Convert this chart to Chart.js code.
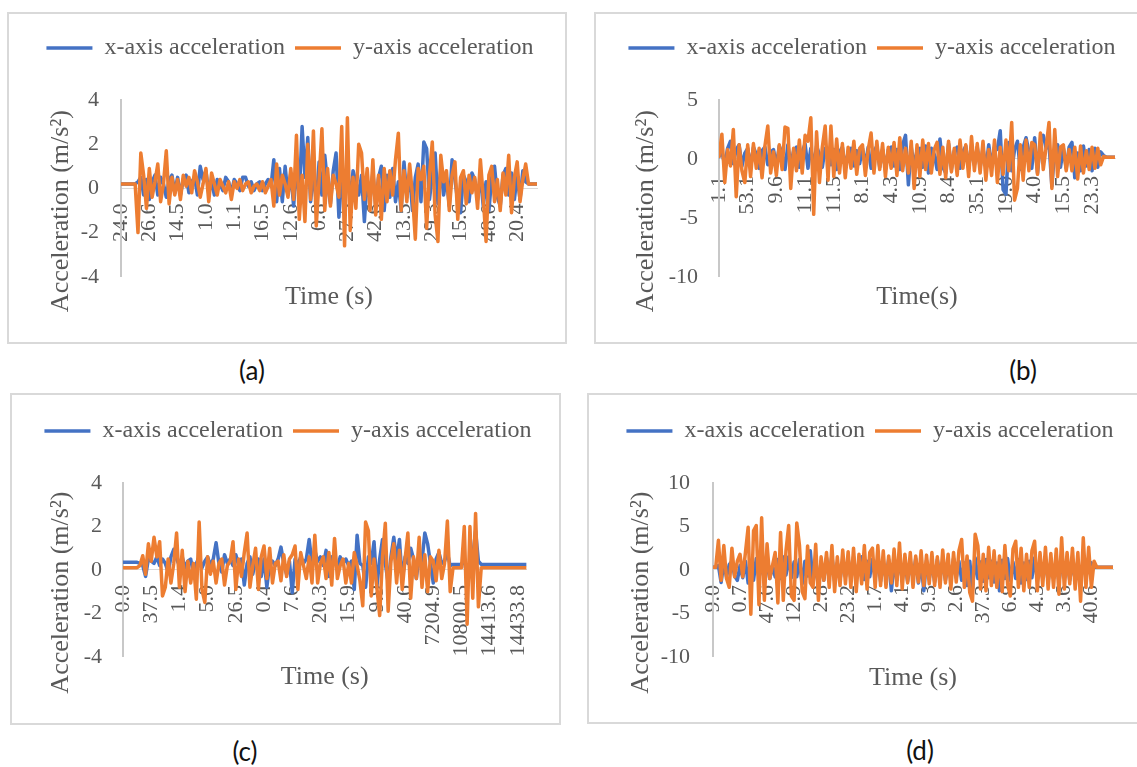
<!DOCTYPE html>
<html>
<head>
<meta charset="utf-8">
<script src="https://cdn.jsdelivr.net/npm/chart.js@4.4.1/dist/chart.umd.min.js"></script>
<style>
  body { margin: 0; background: #fff; }
  #page { position: relative; width: 1137px; height: 767px; overflow: hidden; background: #fff; }
  .frame { position: absolute; border: 2px solid #d9d9d9; box-sizing: border-box; }
  canvas { position: absolute; }
  .cap { position: absolute; width: 80px; margin-left: -40px; text-align: center; font: 26px Lato, 'Noto Sans', sans-serif; line-height: 26px; color: #111; }
</style>
</head>
<body>
<div id="page">
  <div class="frame" style="left:7px;top:12px;width:560px;height:332px"></div>
  <canvas id="chartA" width="558" height="330" style="left:8px;top:13px"></canvas>
  <div class="cap" style="left:252px;top:357px">(a)</div>

  <div class="frame" style="left:594px;top:12px;width:552px;height:332px"></div>
  <canvas id="chartB" width="550" height="330" style="left:595px;top:13px"></canvas>
  <div class="cap" style="left:1023px;top:357px">(b)</div>

  <div class="frame" style="left:10px;top:393px;width:551px;height:332px"></div>
  <canvas id="chartC" width="549" height="330" style="left:11px;top:394px"></canvas>
  <div class="cap" style="left:245px;top:738px">(c)</div>

  <div class="frame" style="left:587px;top:393px;width:561px;height:331px"></div>
  <canvas id="chartD" width="559" height="329" style="left:588px;top:394px"></canvas>
  <div class="cap" style="left:920px;top:737px">(d)</div>
</div>
<script>
// time labels that Excel shows, one every 10 samples
const ticksA = ['24.0', '26.6', '14.5', '1.0', '1.1', '16.5', '12.6', '0.8', '27.5', '42.6', '13.5', '29.3', '15.6', '48.0', '20.4'];
const ticksB = ['1.1', '53.1', '9.6', '11.1', '11.5', '8.1', '4.3', '10.9', '8.4', '35.1', '19.0', '4.0', '15.5', '23.3'];
const ticksC = ['0.0', '37.5', '1.4', '5.0', '26.5', '0.4', '7.6', '20.3', '15.9', '9.9', '40.6', '7204.9', '10800.5', '14413.6', '14433.8'];
const ticksD = ['9.0', '0.7', '47.6', '12.9', '2.8', '23.2', '1.7', '4.1', '9.3', '2.6', '37.3', '6.8', '4.3', '3.6', '40.6'];

// (a)
const accXA = [
  0.2, 0.2, 0.2, 0.2, 0.2, 0.2, 0.3, 0.5, -0.3, 0.4,
  -0.5, 0.3, 0.6, -0.3, 0.5, 0.2, -0.4, 0.4, 0.6, -0.2,
  0.5, -0.3, 0.4, 0.6, -0.2, 0.3, 0.5, -0.3, 1.0, 0.4,
  0.8, -0.2, 0.3, -0.3, 0.4, 0.2, -0.1, 0.5, 0.3, -0.2,
  0.4, 0.2, -0.1, 0.5, 0.5, 0.1, 0.3, -0.1, 0.2, 0.3,
  -0.1, 0.2, 0.4, 0.1, 1.3, -0.6, 0.9, -0.6, 1.0, -0.3,
  0.7, -0.8, 1.0, -0.4, 2.8, 0.5, 2.3, -0.6, 0.8, -0.7,
  1.2, -0.3, 1.5, 0.2, -0.7, 0.8, 1.6, -1.3, 0.5, -0.4,
  0.9, -0.6, 0.8, 0.3, -0.3, 0.6, -1.5, 0.4, -0.5, 0.7,
  -0.8, 0.5, 1.0, -1.0, 0.6, -0.4, 0.9, -0.6, 0.3, -1.0,
  1.2, -0.4, 0.7, -1.0, 0.5, 1.1, -0.6, 2.1, 1.8, -0.5,
  0.6, 1.6, -0.7, 0.9, -0.3, 0.5, -0.8, 1.3, 0.4, -0.6,
  -1.1, 0.6, 0.3, -0.6, 0.7, 0.4, -0.5, 0.6, -0.8, 0.3,
  -1.0, 0.5, 1.0, -0.4, -0.8, 0.6, 0.9, -0.3, 0.7, -0.5,
  0.6, -0.5, 0.8, 0.3, 0.2, 0.2, 0.2, 0.2
];
const accYA = [
  0.2, 0.2, 0.2, 0.2, 0.2, 0.2, -2.0, 1.6, 0.6, -0.9,
  0.9, -0.4, 0.3, 1.1, -0.6, 0.2, 1.7, -0.7, 0.5, -0.3,
  0.4, -0.5, 0.6, 0.1, 0.5, -0.2, 0.8, 0.3, -0.4, 0.2,
  0.9, -0.6, 0.7, 0.2, -0.3, 0.4, 0.1, -0.2, 0.3, -0.5,
  0.3, 0.0, 0.4, -0.1, 0.2, 0.3, -0.2, 0.1, 0.2, -0.1,
  0.3, -0.2, 0.1, 0.4, -0.8, 1.1, -0.3, 0.6, 0.2, -0.4,
  0.9, -0.5, 2.4, -1.4, 0.6, -1.5, 2.0, -0.5, 2.6, -1.7,
  0.4, 2.7, -1.0, 0.9, -0.8, 0.6, 0.2, -0.4, 2.8, -2.6,
  3.2, -1.9, 0.5, -0.9, 2.0, 1.6, -0.5, 0.9, -1.0, 1.3,
  -1.2, 0.6, -1.4, 0.9, -0.6, 0.8, -0.3, 1.3, 2.5, -1.0,
  0.8, -0.6, 1.1, -0.3, -2.3, 0.9, 0.4, 1.0, -1.8, 0.6,
  2.1, -1.2, -2.4, 1.5, 0.3, 0.8, -1.0, 0.6, 1.2, -1.4,
  0.5, 0.8, -0.7, 0.6, -0.2, 0.5, -0.9, 1.3, -0.4, -2.4,
  0.6, 1.0, -0.6, 0.4, -1.0, 0.7, -0.3, 1.5, -1.1, 0.5,
  1.2, -0.6, 0.4, 1.1, 0.2, 0.2, 0.2, 0.2
];

// (b)
const accXB = [
  0.2, 0.6, -0.5, 0.9, 1.5, -0.4, 0.8, 1.2, -0.6, 0.5,
  0.9, -0.7, 1.0, 0.4, -0.8, 0.7, 1.0, -0.5, 0.6, 0.8,
  -0.6, 1.1, 0.5, -0.9, 1.2, -0.5, 0.7, 1.0, -0.7, 0.6,
  1.3, -0.8, 0.9, -0.6, 1.1, 0.4, -0.7, 0.9, 0.3, -0.5,
  0.8, -0.9, 0.6, 1.0, -0.7, 0.5, 0.9, -0.6, 0.7, -0.4,
  0.9, -0.5, 1.0, -0.8, 0.6, 1.1, -0.7, 0.8, -0.9, 0.8,
  1.0, -0.6, 0.8, -0.9, 1.2, 2.0, -2.2, 1.0, -0.6, 0.7,
  0.9, -0.7, 1.1, -1.2, 0.9, 0.4, -0.9, 1.7, -0.7, -1.2,
  1.3, -0.9, 0.7, 1.0, -0.8, 0.6, 1.1, -0.7, 0.9, -0.5,
  1.0, -0.7, 0.9, -0.8, 1.2, -0.6, 1.0, 0.8, 2.4, -2.6,
  -3.0, 1.4, -1.0, 0.8, 1.5, -0.9, 1.0, 1.8, 0.6, -0.8,
  1.8, -1.2, 1.4, 2.0, 0.9, 1.3, -2.3, 0.8, 1.2, -0.7,
  0.9, -0.8, 1.0, 1.4, -1.6, 0.5, -1.0, 1.1, -0.6, 0.8,
  -1.0, 0.9, -0.7, 0.6, 0.3, 0.15, 0.15, 0.15, 0.15
];
const accYB = [
  0.2, 2.1, -2.0, 0.8, -0.6, 2.5, -3.2, 1.2, -1.0, -2.0,
  1.2, -1.5, 1.3, -0.8, 0.9, -1.6, 1.1, 2.8, -1.2, 0.6,
  -1.4, 1.2, -0.9, 2.7, 2.6, -2.5, 0.9, -1.0, 1.6, -1.2,
  2.0, 1.5, 3.5, -4.7, 2.3, -2.0, 1.0, 2.8, -1.8, 2.8,
  -1.5, 1.7, -1.2, 1.3, -1.6, 1.0, -0.8, 1.5, -1.3, 0.9,
  1.2, -1.4, 0.8, 2.2, -1.2, 1.5, -0.9, 1.3, -1.5, 1.0,
  -0.8, 1.4, -1.4, 1.8, -1.0, 0.9, -1.2, 1.5, -2.5, 1.2,
  -1.5, 1.6, -0.9, 1.3, -1.2, 0.8, 1.4, -1.3, 1.0, -1.6,
  1.5, -1.1, 0.9, -1.4, 1.6, -0.8, 1.2, -1.5, 1.9, -1.0,
  1.3, -1.2, 1.5, -1.8, 0.8, -1.4, 1.6, -2.0, 1.0, -1.3,
  1.6, -1.0, 3.1, -3.5, -2.5, 1.2, -1.8, 1.6, -1.0, 1.4,
  1.2, -1.3, 2.2, -0.9, 1.0, 3.1, -2.5, 2.5, -1.5, 1.0,
  1.2, -1.0, 0.8, -1.0, 1.0, -1.7, 1.1, -1.2, 0.7, -0.9,
  1.0, -0.8, 0.9, -0.5, 0.2, 0.15, 0.15, 0.15, 0.15
];

// (c)
const accXC = [
  0.35, 0.35, 0.35, 0.35, 0.35, 0.35, 0.3, 0.2, -0.3, 0.5,
  0.4, 0.3, 0.6, 0.2, 0.5, 0.3, -0.1, 0.6, 0.95, 0.5,
  0.2, 0.6, 0.1, 0.4, 0.5, -0.2, 0.3, 0.6, 0.1, 0.4,
  0.6, 0.2, 0.5, 1.25, 0.3, -0.1, 0.7, 0.3, 0.5, 0.2,
  0.7, 0.2, 0.5, -0.7, 0.3, 0.6, -0.2, 0.4, 0.5, -0.3,
  0.5, -0.8, 0.3, 0.4, 0.2, 0.5, 1.05, 0.3, -0.2, 0.4,
  -1.05, 0.5, 0.2, 0.6, 0.3, 0.5, 1.4, 0.3, 0.9, 0.4,
  0.6, 0.2, 0.9, -0.3, 0.6, 0.4, 0.1, 0.6, 0.3, 0.5,
  0.2, 0.4, -0.9, 1.6, 0.3, 0.2, -0.8, 0.6, 0.3, 1.3,
  -0.8, 0.5, 1.4, 0.3, -0.6, 0.6, 1.5, 0.4, 1.4, -0.5,
  0.6, 0.3, 1.0, 0.5, -0.4, 0.7, 0.4, 1.7, 1.2, 0.3,
  -0.6, 0.5, 0.8, 0.3, 0.4, 0.8, 0.2, 0.25, 0.25, 0.25,
  0.25, 0.5, -0.4, 0.3, 0.6, 1.8, 0.4, 0.25, 0.25, 0.25,
  0.25, 0.25, 0.25, 0.25, 0.25, 0.25, 0.25, 0.25, 0.25, 0.25,
  0.25, 0.25, 0.25, 0.25
];
const accYC = [
  0.1, 0.1, 0.1, 0.1, 0.1, 0.1, 0.2, 0.65, -0.2, 1.2,
  0.4, 1.5, 0.6, 1.3, -1.2, -0.8, 0.5, -0.6, 0.3, 1.7,
  -0.8, 0.9, -1.0, 0.4, -0.6, 0.3, -1.35, 2.2, -0.9, -1.5,
  0.6, -0.2, 0.4, -0.6, 0.3, 0.5, -0.7, 0.2, 0.4, 1.3,
  -0.9, 0.5, -0.3, 0.8, 1.7, -0.8, 0.2, 1.0, -0.9, 0.6,
  1.1, -0.4, 1.0, -0.6, 0.3, 0.4, -0.5, 0.7, -0.3, 0.5,
  0.7, 1.1, -0.9, 0.8, 0.2, -0.4, 0.6, -0.6, 1.6, -0.6,
  0.3, 0.6, -0.4, 0.8, -0.7, 1.45, -0.4, 0.2, 0.5, -0.6,
  0.3, -0.6, 0.8, 0.2, -0.5, -1.65, 2.2, 1.8, -1.2, 0.5,
  -0.8, -2.1, 0.6, 2.15, -1.9, 0.4, 1.2, -0.6, 0.9, -0.9,
  0.5, 1.7, -1.3, 0.6, -0.4, 1.5, -0.8, 0.7, -1.0, 0.6,
  0.4, -0.5, 0.9, -0.4, 0.3, 2.25, -1.0, 0.1, 0.1, 0.1,
  0.1, 2.0, -2.5, 2.0, -1.3, 2.6, -1.7, 0.1, 0.1, 0.1,
  0.1, 0.1, 0.1, 0.1, 0.1, 0.1, 0.1, 0.1, 0.1, 0.1,
  0.1, 0.1, 0.1, 0.1
];

// (d)
const accXD = [
  0.3, 0.3, 0.5, -1.45, 0.8, -0.8, 0.6, 1.0, -0.7, -1.2,
  0.5, -0.9, 1.0, -1.5, 0.8, -1.2, 1.3, -0.9, 0.6, -1.0,
  0.8, -1.0, 0.5, -0.8, 1.2, -1.0, 1.5, -0.6, 1.5, -0.9,
  0.9, -0.8, 1.2, -1.6, 1.0, -0.7, 2.2, -1.5, 0.9, -1.8,
  1.0, -1.2, 1.4, -0.9, 1.6, -1.3, 0.8, -1.1, 1.2, -0.8,
  1.3, -1.0, 1.5, -1.2, 0.9, 1.5, -1.1, 1.0, -0.8, 1.2,
  -1.0, 1.4, -1.3, 0.8, -1.0, 1.2, -2.4, 0.9, -1.2, 1.4,
  -1.1, 0.9, -1.3, 1.0, -1.0, 1.3, -1.5, 0.8, -2.4, 1.1,
  -1.0, 0.8, -1.4, 1.2, -0.9, 1.0, -1.2, 0.7, -1.0, 1.3,
  -0.9, 1.0, -1.2, 0.8, -1.8, 1.0, -2.2, 1.4, -1.0, 0.9,
  -1.3, 1.2, -0.9, 1.0, -1.4, 0.8, -2.4, 1.1, -1.0, 1.3,
  -1.2, 0.9, -1.0, 1.2, -1.5, 0.8, -1.1, 1.0, -0.9, 1.4,
  -1.2, 0.8, -1.0, 1.1, -1.3, 0.9, -1.0, 1.2, -1.4, 1.0,
  -0.9, 1.1, -1.2, 0.8, -1.0, 1.0, -1.1, 0.9, -0.8, 1.0,
  0.8, 0.3, 0.3, 0.3, 0.3, 0.3, 0.3, 0.3, 0.3
];
const accYD = [
  0.3, 0.3, 3.4, -1.2, 2.8, -1.0, -2.0, 2.5, -0.8, 1.0,
  1.8, -0.8, 2.0, 4.9, -5.1, 4.5, 5.1, -4.0, 6.0, -3.5,
  3.0, -1.0, 0.5, 2.0, -3.8, 4.3, -3.5, 2.2, 5.1, -3.0,
  -3.5, 5.4, 2.8, -2.5, -3.3, 2.75, -1.5, -2.0, 2.95, -3.5,
  1.5, -1.2, 2.0, -2.0, 2.8, -2.5, 1.5, -1.8, 2.3, -1.6,
  2.1, -2.0, 2.5, -2.5, 1.8, -1.6, 2.8, -2.2, 2.0, 2.5,
  -2.0, 2.8, -1.8, 2.2, -2.0, 1.6, -1.5, 2.4, -1.8, 3.1,
  -2.2, 1.8, -1.5, 2.0, -2.0, 1.6, -1.4, 2.2, -1.8, 1.7,
  -1.6, 2.0, -1.8, 1.5, -2.0, 2.3, -1.5, 1.8, -2.2, 2.0,
  -1.4, 2.2, 3.5, -2.0, 1.6, -2.6, -3.6, 4.1, 2.8, -2.2,
  1.8, -2.4, 2.6, -1.8, 2.2, -2.0, 1.6, -2.5, 2.8, -1.7,
  -3.0, 2.4, 3.3, -2.0, 2.5, -2.4, 1.8, -2.0, 2.2, 3.3,
  -2.4, 2.0, -1.8, 2.6, -2.2, 1.9, -2.0, 2.4, -2.8, 3.7,
  -2.2, 2.0, -1.6, 2.5, -2.2, 2.0, -3.6, 3.7, -2.0, 2.6,
  -2.0, 1.0, 0.3, 0.3, 0.3, 0.3, 0.3, 0.3, 0.3
];

Chart.defaults.font.family = "'Liberation Serif', 'Times New Roman', serif";
Chart.defaults.color = '#595959';

const BLUE = '#4472c4';
const ORANGE = '#ed7d31';
const GREY = '#595959';
const EVERY = 10;

function drawAccel(id, tickLabels, accX, accY, yMin, yMax, yStep, lay) {
  const idx = accX.map((v, i) => i);
  new Chart(document.getElementById(id), {
    type: 'line',
    data: {
      labels: idx,
      datasets: [
        { label: 'x-axis acceleration', data: accX, borderColor: BLUE, backgroundColor: BLUE,
          borderWidth: 3.5, pointRadius: 0, borderJoinStyle: 'round', borderCapStyle: 'round', order: 1 },
        { label: 'y-axis acceleration', data: accY, borderColor: ORANGE, backgroundColor: ORANGE,
          borderWidth: 3.5, pointRadius: 0, borderJoinStyle: 'round', borderCapStyle: 'round', order: 0 }
      ]
    },
    options: {
      responsive: false,
      animation: false,
      devicePixelRatio: 1,
      layout: { padding: { left: lay.pl, right: 0, top: lay.pt, bottom: 0 } },
      plugins: {
        legend: {
          position: 'top',
          labels: {
            usePointStyle: true, pointStyle: 'line', pointStyleWidth: 46, padding: 10,
            font: { size: 24 }, color: GREY,
            sort: (a, b) => a.datasetIndex - b.datasetIndex
          }
        },
        // empty subtitle used only as a gap under the legend
        subtitle: { display: true, text: '', weight: 500, padding: { top: lay.gap - 2, bottom: 0 }, font: { size: 2, lineHeight: 1 } },
        title: {
          display: true, position: 'bottom', fullSize: false, text: lay.xTitle, color: GREY,
          font: { size: 26, weight: 'normal' }, padding: { top: lay.tTop, bottom: lay.tBottom }
        },
        tooltip: { enabled: false }
      },
      scales: {
        x: {
          type: 'linear',
          position: { y: 0 },
          min: 0,
          max: accX.length - 1,
          grid: { display: false, drawTicks: false },
          border: { display: true, color: '#d9d9d9', width: 1 },
          ticks: {
            stepSize: EVERY, maxTicksLimit: 100, includeBounds: false, autoSkip: false,
            minRotation: 90, maxRotation: 90, padding: lay.xPad, font: { size: 22 }, color: GREY,
            callback: (v) => (v % EVERY === 0 ? tickLabels[v / EVERY] : '')
          },
          afterFit: (s) => { s.height = 0; }
        },
        y: {
          min: yMin,
          max: yMax,
          grid: { display: false, drawTicks: false },
          border: { display: true, color: '#c8c8c8', width: 2 },
          ticks: { stepSize: yStep, maxTicksLimit: 100, padding: lay.tickPad, font: { size: 22 }, color: GREY,
            callback: (v) => String(v) },
          // trailing spaces push the title a little below the plot centre, like Excel does
          title: { display: true, text: 'Acceleration (m/s\u00B2)       ', font: { size: 26 }, color: GREY,
            padding: { top: lay.yTitlePad, bottom: 0 } },
          afterFit: (s) => { s.width = lay.yw; }
        },
        // empty right-hand box: keeps the plot off the right edge without narrowing the legend row
        gap: {
          type: 'linear', axis: 'y', position: 'right', display: true,
          grid: { display: false, drawTicks: false }, border: { display: false }, ticks: { display: false },
          afterFit: (s) => { s.width = lay.pr; }
        }
      }
    }
  });
}

drawAccel('chartA', ticksA, accXA, accYA, -4, 4, 2,
  { pl: 6, pr: 29, pt: 13, gap: 30, yw: 107, yTitlePad: 32, tickPad: 22, xPad: 15, tTop: 5, tBottom: 30, xTitle: 'Time (s)' });
drawAccel('chartB', ticksB, accXB, accYB, -10, 5, 5,
  { pl: 4, pr: 30, pt: 13, gap: 30, yw: 120, yTitlePad: 32, tickPad: 21, xPad: 17, tTop: 5, tBottom: 30, xTitle: 'Time(s)' });
drawAccel('chartC', ticksC, accXC, accYC, -4, 4, 2,
  { pl: 5, pr: 31, pt: 15, gap: 30, yw: 107, yTitlePad: 30, tickPad: 21, xPad: 15, tTop: 5, tBottom: 31, xTitle: 'Time (s)' });
drawAccel('chartD', ticksD, accXD, accYD, -10, 10, 5,
  { pl: 5, pr: 34, pt: 15, gap: 30, yw: 120, yTitlePad: 33, tickPad: 23, xPad: 15, tTop: 6, tBottom: 29, xTitle: 'Time (s)' });
</script>
</body>
</html>
